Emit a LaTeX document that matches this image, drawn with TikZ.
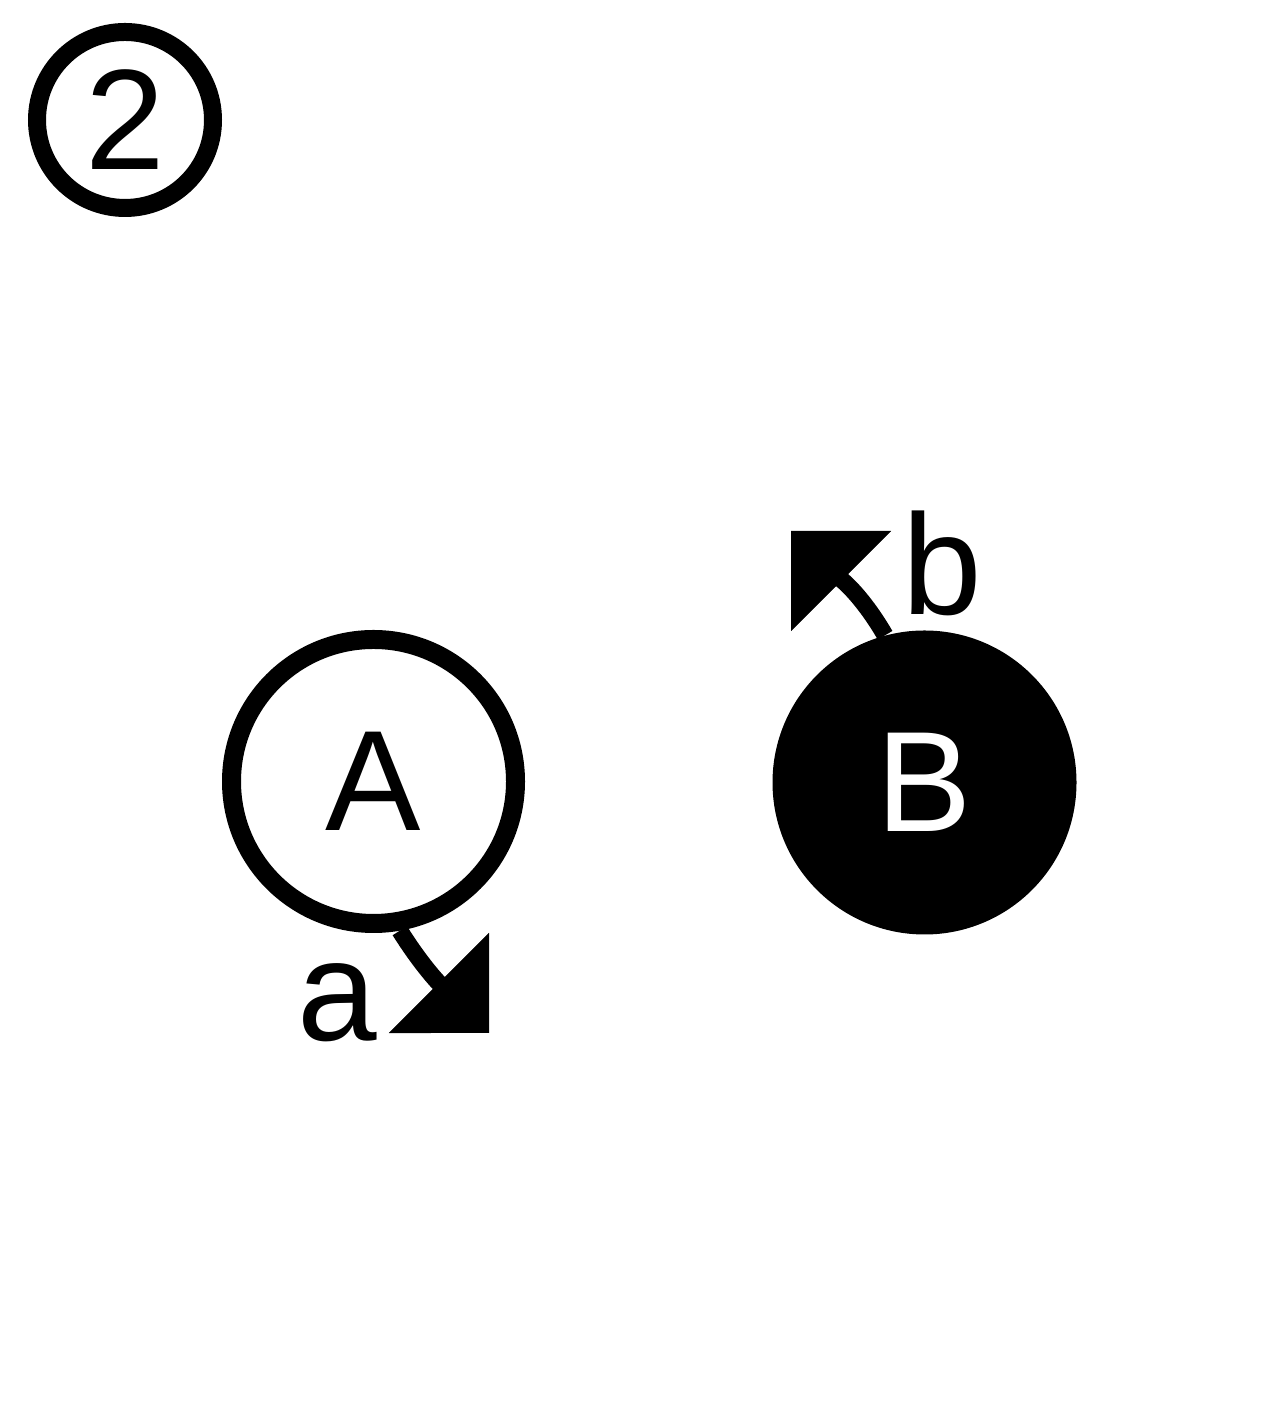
\documentclass[tikz,border=0pt]{standalone}
\usepackage{fontspec}
\setmainfont{Liberation Sans}
\usetikzlibrary{arrows.meta}

\begin{document}
\begin{tikzpicture}[x=0.5pt,y=0.5pt,
    font=\fontsize{71.5}{86}\selectfont,
    ring/.style={circle,draw,inner sep=0pt,line width=9.5pt,minimum size=142pt},
    disc/.style={circle,fill,inner sep=0pt,minimum size=152pt,text=white},
    stem/.style={line width=8.5pt,-{Triangle[angle=90:50pt,line width=0.1pt]}},
    tag/.style={anchor=base,inner sep=0pt}]
    \useasboundingbox (0,0) rectangle (1280,1422);
    % step number
    \node[circle,draw,inner sep=0pt,line width=9pt,minimum size=88pt] (num) at (125,1302) {2};
    % the two circles
    \node[ring] (A) at (373.5,640.5) {A};
    \node[disc] (B) at (924.5,639.5) {B};
    \coordinate (ta) at (489,389);
    \coordinate (tb) at (791,891);
    \draw[stem] (A.-80) to[out=-58,in=135] (ta);
    \draw[stem] (B.105) to[out=120,in=-45] (tb);
    \node[tag] (la) at (337,381) {a};
    \node[tag] (lb) at (942,807) {b};
\end{tikzpicture}
\end{document}
